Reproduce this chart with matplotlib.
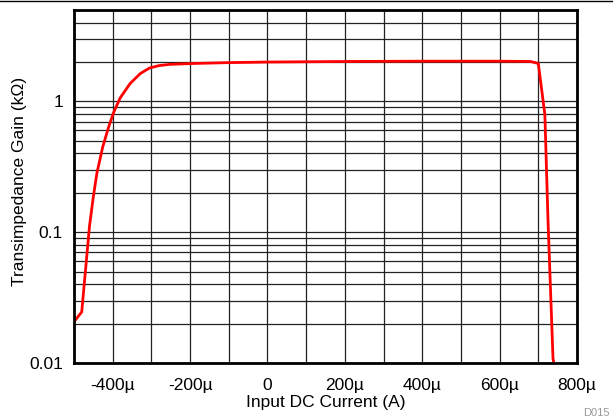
import numpy as np
import matplotlib.pyplot as plt
from matplotlib.lines import Line2D
from matplotlib.ticker import FixedLocator, LogLocator, NullFormatter

plt.rcParams['font.family'] = ['Liberation Sans', 'DejaVu Sans']

# input DC current (A) and transimpedance gain (kOhm)
current = [-497e-6, -480e-6, -460e-6, -450e-6, -441e-6, -426e-6, -411e-6,
           -398e-6, -381e-6, -355e-6, -329e-6, -305e-6, -280e-6, -252e-6,
           -192e-6, -100e-6, 0.0, 200e-6, 400e-6, 600e-6, 680e-6, 700e-6,
           717e-6, 725e-6, 738e-6, 742e-6]
gain = [0.0212, 0.0246, 0.111, 0.187, 0.281, 0.446, 0.63,
        0.817, 1.06, 1.37, 1.63, 1.80, 1.88, 1.92,
        1.95, 1.98, 2.0, 2.02, 2.03, 2.03, 2.02, 1.95,
        0.79, 0.125, 0.0108, 0.0095]

xticks = [-400e-6, -200e-6, 0, 200e-6, 400e-6, 600e-6, 800e-6]
xtick_labels = ['-400µ', '-200µ', '0', '200µ', '400µ', '600µ', '800µ']
yticks = [0.01, 0.1, 1]
ytick_labels = ['0.01', '0.1', '1']

fig = plt.figure(figsize=(6.13, 4.2), dpi=100)
ax = fig.add_axes([74 / 613, 57 / 420, 503 / 613, 353 / 420])

ax.plot(current, gain, color='#ff0000', lw=2, solid_joinstyle='round', zorder=3)

ax.set_yscale('log')
ax.set_xlim(-500e-6, 800e-6)
ax.set_ylim(0.01, 5)

ax.set_xticks(xticks)
ax.set_xticklabels(xtick_labels)
ax.xaxis.set_minor_locator(FixedLocator(np.arange(-500e-6, 801e-6, 100e-6)))
ax.set_yticks(yticks)
ax.set_yticklabels(ytick_labels)
ax.yaxis.set_minor_locator(LogLocator(base=10, subs=np.arange(2, 10), numticks=20))
ax.yaxis.set_minor_formatter(NullFormatter())

ax.grid(which='both', color='#222222', lw=0.9)
ax.tick_params(which='both', length=0, labelsize=12.5)
ax.tick_params(axis='x', pad=11)
ax.tick_params(axis='y', pad=8)
for s in ax.spines.values():
    s.set_linewidth(2)
    s.set_zorder(4)

ax.set_xlabel('Input DC Current (A)', fontsize=12.5, labelpad=1)
fig.text(20 / 613, 0.568, 'Transimpedance Gain (kΩ)', rotation=90,
         ha='center', va='center', fontsize=12.5)

fig.text(0.995, 0.005, 'D015', ha='right', va='bottom', fontsize=8, color='#999999')
fig.add_artist(Line2D([0, 1], [0.998, 0.998], color='black', lw=1,
                      transform=fig.transFigure))

fig.savefig('out.png', dpi=100)
